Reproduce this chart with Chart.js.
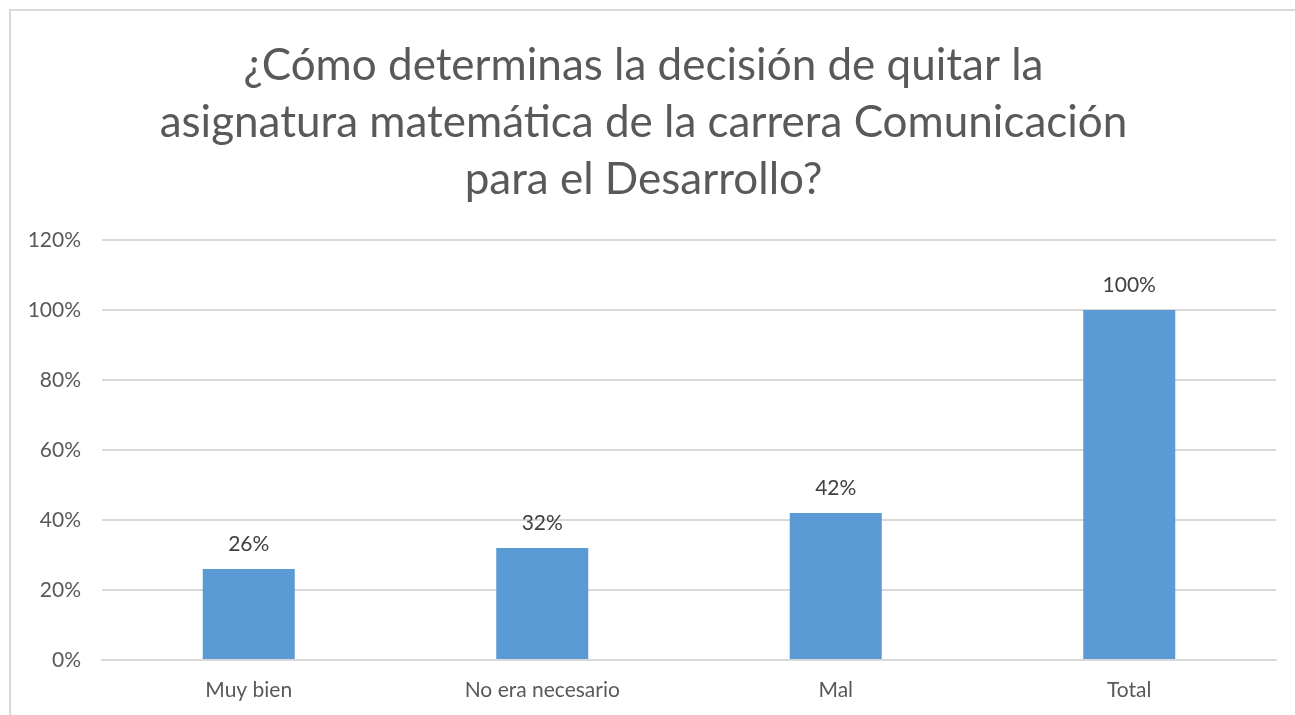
<!DOCTYPE html>
<html>
<head>
<meta charset="utf-8">
<script src="https://cdn.jsdelivr.net/npm/chart.js@4/dist/chart.umd.min.js"></script>
<style>
  html, body { margin: 0; padding: 0; background: #fff; overflow: hidden; }
  #frame {
    position: absolute; left: 9px; top: 9px;
    width: 1290px; height: 720px;
    border: 2px solid #d9d9d9;
    background: #fff;
  }
  #chartBox { position: absolute; left: 0; top: 0; width: 1290px; height: 705px; }
</style>
</head>
<body>
<div id="frame">
  <div id="chartBox"><canvas id="barChart"></canvas></div>
</div>
<script>
var categories = ["Muy bien", "No era necesario", "Mal", "Total"];
var values = [26, 32, 42, 100];
var titleLines = [
    "¿Cómo determinas la decisión de quitar la",
    "asignatura matemática de la carrera Comunicación",
    "para el Desarrollo?"
];
var yTicks = [0, 20, 40, 60, 80, 100, 120];

var fontName = "Lato, 'Open Sans', sans-serif";

// draws the value above each bar
var valueLabels = {
    id: 'valueLabels',
    afterDatasetsDraw: function (chart) {
        var ctx = chart.ctx;
        var meta = chart.getDatasetMeta(0);
        ctx.save();
        ctx.font = '21px ' + fontName;
        ctx.fillStyle = '#404040';
        ctx.textAlign = 'center';
        ctx.textBaseline = 'middle';
        meta.data.forEach(function (bar, i) {
            ctx.fillText(values[i] + '%', bar.x, bar.y - 25);
        });
        ctx.restore();
    }
};

var barCanvas = document.getElementById('barChart');
var barChart = new Chart(barCanvas, {
    type: 'bar',
    data: {
        labels: categories,
        datasets: [{
            data: values,
            backgroundColor: '#5B9BD5',
            barPercentage: 0.3135,
            categoryPercentage: 1
        }]
    },
    options: {
        responsive: true,
        maintainAspectRatio: false,
        animation: false,
        layout: { padding: { left: 0, right: 25, top: 0, bottom: 0 } },
        plugins: {
            legend: { display: false },
            tooltip: { enabled: false },
            title: {
                display: true,
                text: titleLines,
                color: '#595959',
                font: { family: fontName, size: 44, weight: 'normal', lineHeight: 1.295 },
                padding: { top: 26, bottom: 32 }
            }
        },
        scales: {
            x: {
                afterFit: function (scale) { scale.height = 56; },
                grid: { display: false, drawTicks: false },
                border: { display: true, color: '#d9d9d9', width: 2 },
                ticks: {
                    color: '#595959',
                    font: { family: fontName, size: 21 },
                    padding: 18,
                    maxRotation: 0
                }
            },
            y: {
                min: 0,
                max: 120,
                afterFit: function (scale) { scale.width = 91; },
                afterBuildTicks: function (scale) {
                    scale.ticks = yTicks.map(function (v) { return { value: v }; });
                },
                grid: { color: '#d9d9d9', lineWidth: 2, drawTicks: false },
                border: { display: false },
                ticks: {
                    color: '#595959',
                    font: { family: fontName, size: 21 },
                    padding: 21,
                    callback: function (v) { return v + '%'; }
                }
            }
        }
    },
    plugins: [valueLabels]
});
</script>
</body>
</html>
